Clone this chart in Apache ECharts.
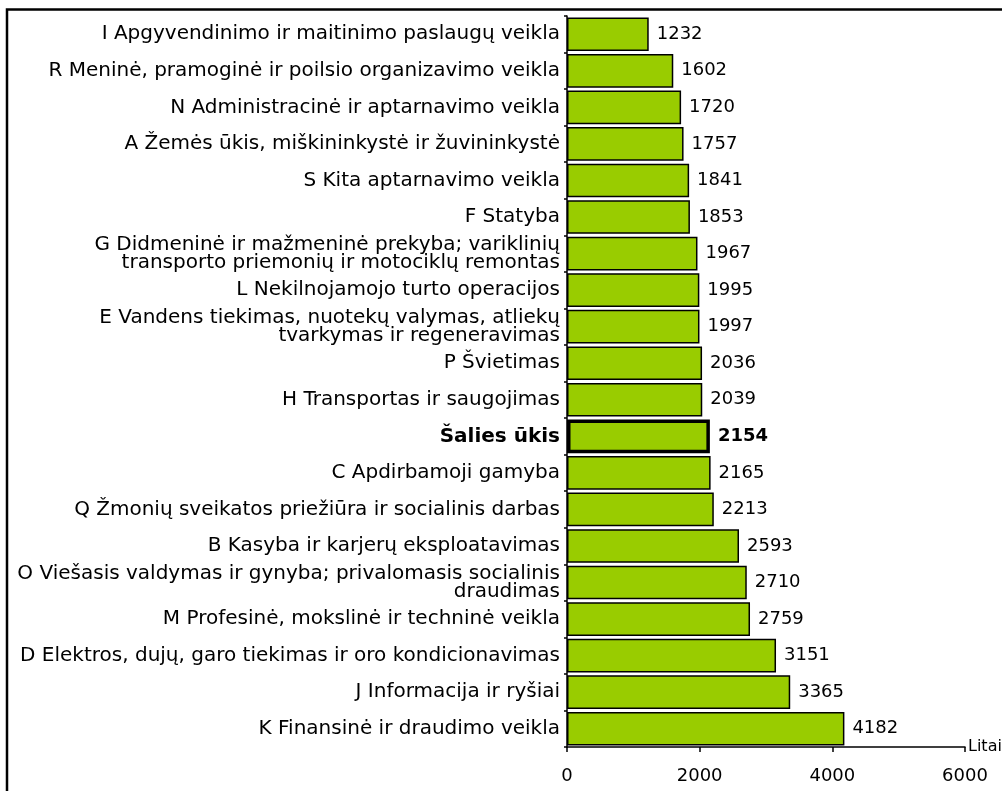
<!DOCTYPE html>
<html>
<head>
<meta charset="UTF-8" />
<title>Vidutinis darbo užmokestis</title>
<style>
* { margin: 0; padding: 0; }
html, body { width: 100%; height: 100%; background: #fff; }
#chart { width: 1003px; height: 791px; }
</style>
</head>
<body>
<div id="chart"></div>
<script src="https://cdn.jsdelivr.net/npm/echarts@6/dist/echarts.min.js"></script>
<script>
// kategorijos (iš viršaus į apačią)
let categories = [
  'I Apgyvendinimo ir maitinimo paslaugų veikla',
  'R Meninė, pramoginė ir poilsio organizavimo veikla',
  'N Administracinė ir aptarnavimo veikla',
  'A Žemės ūkis, miškininkystė ir žuvininkystė',
  'S Kita aptarnavimo veikla',
  'F Statyba',
  'G Didmeninė ir mažmeninė prekyba; variklinių\ntransporto priemonių ir motociklų remontas',
  'L Nekilnojamojo turto operacijos',
  'E Vandens tiekimas, nuotekų valymas, atliekų\ntvarkymas ir regeneravimas',
  'P Švietimas',
  'H Transportas ir saugojimas',
  'Šalies ūkis',
  'C Apdirbamoji gamyba',
  'Q Žmonių sveikatos priežiūra ir socialinis darbas',
  'B Kasyba ir karjerų eksploatavimas',
  'O Viešasis valdymas ir gynyba; privalomasis socialinis\ndraudimas',
  'M Profesinė, mokslinė ir techninė veikla',
  'D Elektros, dujų, garo tiekimas ir oro kondicionavimas',
  'J Informacija ir ryšiai',
  'K Finansinė ir draudimo veikla'
]
let values = [1232, 1602, 1720, 1757, 1841, 1853, 1967, 1995, 1997, 2036,
  2039, 2154, 2165, 2213, 2593, 2710, 2759, 3151, 3365, 4182]
let highlight = 'Šalies ūkis'
let xTicks = [0, 2000, 4000, 6000]

let font = 'DejaVu Sans'
let chart = echarts.init(document.getElementById('chart'))

let seriesData = values.map((v, i) => {
  let item = { value: v }
  if (categories[i] === highlight) {
    item.itemStyle = { borderWidth: 3.5 }
    item.label = { fontWeight: 'bold' }
  }
  return item
})

let option = {
  backgroundColor: '#fff',
  animation: false,
  grid: { left: 567, right: 38, top: 16, bottom: 44, containLabel: false, outerBoundsMode: 'none' },
  xAxis: {
    type: 'value',
    min: xTicks[0],
    max: xTicks[xTicks.length - 1],
    interval: 2000,
    name: 'Litai',
    nameLocation: 'end',
    nameGap: 3,
    nameTextStyle: { color: '#000', fontFamily: font, fontSize: 16 },
    splitLine: { show: false },
    axisLine: { show: true, lineStyle: { color: '#000', width: 1.5 } },
    axisTick: { show: true, length: 5, lineStyle: { color: '#000', width: 1.5 } },
    axisLabel: {
      color: '#000', fontFamily: font, fontSize: 18, margin: 20,
      formatter: (v) => String(v)
    }
  },
  yAxis: {
    type: 'category',
    inverse: true,
    data: categories,
    axisLine: { show: true, lineStyle: { color: '#000', width: 1.5 } },
    axisTick: { show: true, length: 3, lineStyle: { color: '#000', width: 1.5 } },
    axisLabel: {
      color: '#000',
      fontFamily: font,
      fontSize: 20,
      lineHeight: 18,
      margin: 7,
      align: 'right',
      formatter: (v) => v === highlight ? '{b|' + v + '}' : v,
      rich: {
        b: { fontWeight: 'bold', fontFamily: font, fontSize: 20, color: '#000' }
      }
    }
  },
  series: [{
    type: 'bar',
    data: seriesData,
    barCategoryGap: '8%',
    itemStyle: { color: '#99cc00', borderColor: '#000', borderWidth: 1.5 },
    label: {
      show: true,
      position: 'right',
      distance: 8,
      color: '#000',
      fontFamily: font,
      fontSize: 18
    }
  }],
  graphic: [{
    type: 'polyline',
    shape: { points: [[7, 791], [7, 9.5], [1002, 9.5]] },
    style: { stroke: '#000', lineWidth: 2.5, fill: null }
  }]
}
chart.setOption(option)
</script>
</body>
</html>
